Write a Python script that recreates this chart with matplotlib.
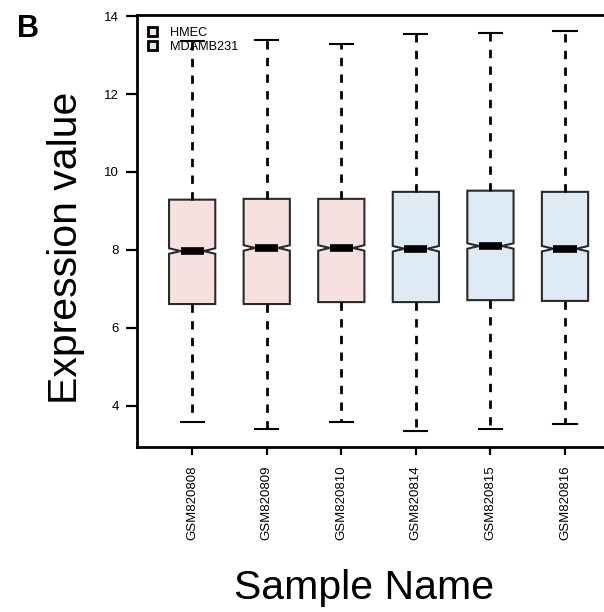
import matplotlib
matplotlib.use("Agg")
import matplotlib.pyplot as plt
from matplotlib.patches import Patch

samples = ["GSM820808", "GSM820809", "GSM820810", "GSM820814", "GSM820815", "GSM820816"]
groups = ["HMEC", "HMEC", "HMEC", "MDAMB231", "MDAMB231", "MDAMB231"]
whisker_low = [3.57, 3.41, 3.57, 3.34, 3.39, 3.54]
q1 = [6.61, 6.61, 6.66, 6.66, 6.71, 6.69]
median = [7.97, 8.05, 8.05, 8.03, 8.10, 8.03]
q3 = [9.29, 9.31, 9.31, 9.49, 9.52, 9.49]
whisker_high = [13.36, 13.39, 13.28, 13.54, 13.57, 13.62]
notch_half = [0.07, 0.07, 0.07, 0.07, 0.07, 0.07]

group_colors = {"HMEC": "#F6E1E0", "MDAMB231": "#DEEBF4"}

plt.rcParams["font.family"] = ["Liberation Sans", "DejaVu Sans"]

fig = plt.figure(figsize=(6.04, 6.12), dpi=100)
ax = fig.add_axes([0.2268, 0.2696, 0.80, 0.7059])

stats = []
for i, name in enumerate(samples):
    stats.append(dict(
        label=name, med=median[i], q1=q1[i], q3=q3[i],
        whislo=whisker_low[i], whishi=whisker_high[i],
        cilo=median[i] - notch_half[i], cihi=median[i] + notch_half[i],
        fliers=[],
    ))

positions = list(range(1, len(samples) + 1))
bp = ax.bxp(stats, positions=positions, widths=0.62, capwidths=0.31,
            shownotches=True, showfliers=False, patch_artist=True,
            boxprops=dict(edgecolor="#2a2a2a", linewidth=1.5),
            medianprops=dict(color="black", linewidth=5.5, solid_capstyle="butt"),
            whiskerprops=dict(color="black", linewidth=2.0, linestyle=(0, (3, 3))),
            capprops=dict(color="black", linewidth=1.5))
for patch, g in zip(bp["boxes"], groups):
    patch.set_facecolor(group_colors[g])

ax.set_xlim(0.26, 6.74)
ax.set_ylim(2.94, 14.03)
ax.set_yticks([4, 6, 8, 10, 12, 14])
ax.set_xticks(positions)
ax.set_xticklabels(samples, rotation=90, fontsize=9.5)
ax.tick_params(axis="y", labelsize=9.5, length=8, width=1.6, pad=5)
ax.tick_params(axis="x", length=6, width=1.6, pad=7)
for s in ax.spines.values():
    s.set_linewidth(2)

fig.text(0.110, 0.5948, "Expression value", fontsize=29.5, rotation=90,
         ha="center", va="center")
fig.text(0.603, 0.040, "Sample Name", fontsize=29.5, ha="center", va="center")

handles = [Patch(facecolor=group_colors[g], edgecolor="black", linewidth=2.0, label=g)
           for g in ["HMEC", "MDAMB231"]]
ax.legend(handles=handles, loc="upper left", frameon=False, fontsize=9.2,
          handlelength=0.75, handleheight=0.7, handletextpad=1.0,
          labelspacing=0.2, borderaxespad=0.0, borderpad=0.0,
          bbox_to_anchor=(0.022, 0.973))

fig.text(0.046, 0.953, "B", fontsize=22, fontweight="bold", va="center", ha="center")

fig.savefig("out.png", dpi=100)
